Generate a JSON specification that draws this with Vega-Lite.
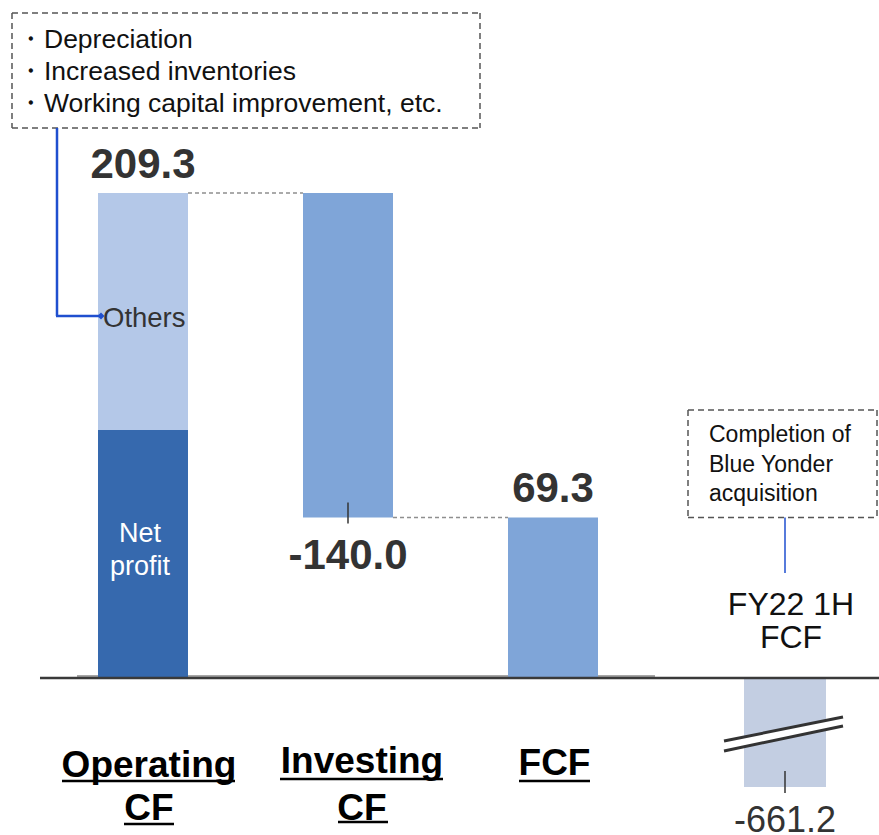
{
  "$schema": "https://vega.github.io/schema/vega-lite/v6.json",
  "width": 879,
  "height": 835,
  "padding": 0,
  "autosize": {"type": "none"},
  "background": "white",
  "config": {
    "view": {"stroke": null},
    "text": {"font": "Liberation Sans"},
    "locale": {"number": {"decimal": ".", "thousands": ",", "grouping": [3], "currency": ["$", ""], "minus": "-"}}
  },
  "datasets": {
    "bars": [
      {"cat": "Operating CF", "part": "Net profit", "y0": 0, "y1": 107.0},
      {"cat": "Operating CF", "part": "Others", "y0": 107.0, "y1": 209.3},
      {"cat": "Investing CF", "part": "Investing", "y0": 209.3, "y1": 69.3},
      {"cat": "FCF", "part": "FCF", "y0": 0, "y1": 69.3}
    ],
    "totals": [
      {"cat": "Operating CF", "total": 209.3},
      {"cat": "FCF", "total": 69.3}
    ],
    "steps": [
      {"from": "Operating CF", "to": "Investing CF", "level": 209.3},
      {"from": "Investing CF", "to": "FCF", "level": 69.3}
    ],
    "invest": [{"cat": "Investing CF", "amount": -140.0, "end": 69.3}],
    "fy22": [{"cat": "FY22 1H FCF", "value": -661.2, "label": "FY22 1H\nFCF"}],
    "cats": [
      {"cat": "Operating CF", "label": "Operating\nCF"},
      {"cat": "Investing CF", "label": "Investing\nCF"},
      {"cat": "FCF", "label": "FCF"}
    ]
  },
  "resolve": {"scale": {"y": "independent"}},
  "layer": [
    {
      "description": "FY22 1H FCF bar on a compressed (broken) value scale",
      "layer": [
        {
          "data": {"name": "fy22"},
          "mark": {"type": "bar", "color": "#C3CEE2", "width": 82, "xOffset": 27},
          "encoding": {
            "x": {"field": "cat", "type": "nominal", "axis": null, "scale": {"type": "band", "domain": ["Operating CF", "Investing CF", "FCF", "FY22 1H FCF"], "range": [98, 803], "paddingInner": 0.561, "paddingOuter": 0}},
            "y": {"field": "value", "type": "quantitative", "axis": null, "scale": {"domain": [-952.4, 4112.8], "nice": false, "zero": false}},
            "y2": {"datum": 0}
          }
        },
        {
          "data": {"values": [{}]},
          "mark": {"type": "rule", "color": "white", "strokeWidth": 9, "xOffset": -34, "x2Offset": 85},
          "encoding": {
            "x": {"datum": "FY22 1H FCF", "type": "nominal", "axis": null, "scale": {"type": "band", "domain": ["Operating CF", "Investing CF", "FCF", "FY22 1H FCF"], "range": [98, 803], "paddingInner": 0.561, "paddingOuter": 0}},
            "x2": {"datum": "FY22 1H FCF"},
            "y": {"datum": -412.5, "type": "quantitative", "axis": null, "scale": {"domain": [-952.4, 4112.8], "nice": false, "zero": false}},
            "y2": {"datum": -263.9}
          }
        },
        {
          "data": {"values": [{}]},
          "mark": {"type": "rule", "color": "#333333", "strokeWidth": 3, "xOffset": -34, "x2Offset": 85},
          "encoding": {
            "x": {"datum": "FY22 1H FCF", "type": "nominal", "axis": null, "scale": {"type": "band", "domain": ["Operating CF", "Investing CF", "FCF", "FY22 1H FCF"], "range": [98, 803], "paddingInner": 0.561, "paddingOuter": 0}},
            "x2": {"datum": "FY22 1H FCF"},
            "y": {"datum": -382.2, "type": "quantitative", "axis": null, "scale": {"domain": [-952.4, 4112.8], "nice": false, "zero": false}},
            "y2": {"datum": -236.6}
          }
        },
        {
          "data": {"values": [{}]},
          "mark": {"type": "rule", "color": "#333333", "strokeWidth": 3, "xOffset": -34, "x2Offset": 85},
          "encoding": {
            "x": {"datum": "FY22 1H FCF", "type": "nominal", "axis": null, "scale": {"type": "band", "domain": ["Operating CF", "Investing CF", "FCF", "FY22 1H FCF"], "range": [98, 803], "paddingInner": 0.561, "paddingOuter": 0}},
            "x2": {"datum": "FY22 1H FCF"},
            "y": {"datum": -442.8, "type": "quantitative", "axis": null, "scale": {"domain": [-952.4, 4112.8], "nice": false, "zero": false}},
            "y2": {"datum": -291.2}
          }
        },
        {
          "data": {"name": "fy22"},
          "mark": {"type": "rule", "color": "#333333", "strokeWidth": 1.5, "xOffset": 27, "yOffset": -16, "y2Offset": 6},
          "encoding": {
            "x": {"field": "cat", "type": "nominal", "axis": null, "scale": {"type": "band", "domain": ["Operating CF", "Investing CF", "FCF", "FY22 1H FCF"], "range": [98, 803], "paddingInner": 0.561, "paddingOuter": 0}},
            "y": {"field": "value", "type": "quantitative", "axis": null, "scale": {"domain": [-952.4, 4112.8], "nice": false, "zero": false}},
            "y2": {"field": "value"}
          }
        },
        {
          "data": {"name": "fy22"},
          "mark": {"type": "text", "fontSize": 36, "color": "#333333", "align": "center", "baseline": "alphabetic", "dx": 27, "dy": 45},
          "encoding": {
            "x": {"field": "cat", "type": "nominal", "axis": null, "scale": {"type": "band", "domain": ["Operating CF", "Investing CF", "FCF", "FY22 1H FCF"], "range": [98, 803], "paddingInner": 0.561, "paddingOuter": 0}},
            "y": {"field": "value", "type": "quantitative", "axis": null, "scale": {"domain": [-952.4, 4112.8], "nice": false, "zero": false}},
            "text": {"field": "value", "type": "quantitative", "format": ".1f"}
          }
        }
      ]
    },
    {
      "description": "Operating, investing and free cash flow waterfall",
      "layer": [
        {
          "data": {"values": [{}]},
          "mark": {"type": "rule", "color": "#8a8a8a", "strokeWidth": 1.5, "xOffset": -66, "x2Offset": 102, "yOffset": -2},
          "encoding": {
            "x": {"datum": "Operating CF", "type": "nominal", "axis": null, "scale": {"type": "band", "domain": ["Operating CF", "Investing CF", "FCF", "FY22 1H FCF"], "range": [98, 803], "paddingInner": 0.561, "paddingOuter": 0}},
            "x2": {"datum": "FCF"},
            "y": {"datum": 0, "type": "quantitative", "axis": null, "scale": {"domain": [-67.75, 292.6], "nice": false, "zero": false}}
          }
        },
        {
          "data": {"name": "steps"},
          "mark": {"type": "rule", "color": "#8f8f8f", "strokeWidth": 1.5, "strokeDash": [4, 3], "xOffset": 45, "x2Offset": -45},
          "encoding": {
            "x": {"field": "from", "type": "nominal", "axis": null, "scale": {"type": "band", "domain": ["Operating CF", "Investing CF", "FCF", "FY22 1H FCF"], "range": [98, 803], "paddingInner": 0.561, "paddingOuter": 0}},
            "x2": {"field": "to"},
            "y": {"field": "level", "type": "quantitative", "axis": null, "scale": {"domain": [-67.75, 292.6], "nice": false, "zero": false}}
          }
        },
        {
          "data": {"name": "bars"},
          "mark": {"type": "bar"},
          "encoding": {
            "x": {"field": "cat", "type": "nominal", "axis": null, "scale": {"type": "band", "domain": ["Operating CF", "Investing CF", "FCF", "FY22 1H FCF"], "range": [98, 803], "paddingInner": 0.561, "paddingOuter": 0}},
            "y": {"field": "y1", "type": "quantitative", "axis": null, "scale": {"domain": [-67.75, 292.6], "nice": false, "zero": false}},
            "y2": {"field": "y0"},
            "color": {"field": "part", "type": "nominal", "legend": null, "scale": {"domain": ["Net profit", "Others", "Investing", "FCF"], "range": ["#3669AE", "#B4C8E8", "#7FA5D8", "#7FA5D8"]}}
          }
        },
        {
          "data": {"values": [{}]},
          "mark": {"type": "rule", "color": "#3a3a3a", "strokeWidth": 2.5, "xOffset": -103, "x2Offset": 121},
          "encoding": {
            "x": {"datum": "Operating CF", "type": "nominal", "axis": null, "scale": {"type": "band", "domain": ["Operating CF", "Investing CF", "FCF", "FY22 1H FCF"], "range": [98, 803], "paddingInner": 0.561, "paddingOuter": 0}},
            "x2": {"datum": "FY22 1H FCF"},
            "y": {"datum": 0, "type": "quantitative", "axis": null, "scale": {"domain": [-67.75, 292.6], "nice": false, "zero": false}}
          }
        },
        {
          "data": {"name": "totals"},
          "mark": {"type": "text", "fontSize": 42, "fontWeight": "bold", "color": "#333333", "align": "center", "baseline": "alphabetic", "dy": -15},
          "encoding": {
            "x": {"field": "cat", "type": "nominal", "axis": null, "scale": {"type": "band", "domain": ["Operating CF", "Investing CF", "FCF", "FY22 1H FCF"], "range": [98, 803], "paddingInner": 0.561, "paddingOuter": 0}},
            "y": {"field": "total", "type": "quantitative", "axis": null, "scale": {"domain": [-67.75, 292.6], "nice": false, "zero": false}},
            "text": {"field": "total", "type": "quantitative", "format": ".1f"}
          }
        },
        {
          "data": {"name": "invest"},
          "mark": {"type": "text", "fontSize": 42, "fontWeight": "bold", "color": "#333333", "align": "center", "baseline": "alphabetic", "dy": 52},
          "encoding": {
            "x": {"field": "cat", "type": "nominal", "axis": null, "scale": {"type": "band", "domain": ["Operating CF", "Investing CF", "FCF", "FY22 1H FCF"], "range": [98, 803], "paddingInner": 0.561, "paddingOuter": 0}},
            "y": {"field": "end", "type": "quantitative", "axis": null, "scale": {"domain": [-67.75, 292.6], "nice": false, "zero": false}},
            "text": {"field": "amount", "type": "quantitative", "format": ".1f"}
          }
        },
        {
          "data": {"name": "invest"},
          "mark": {"type": "rule", "color": "#333333", "strokeWidth": 1.5, "yOffset": -15, "y2Offset": 6},
          "encoding": {
            "x": {"field": "cat", "type": "nominal", "axis": null, "scale": {"type": "band", "domain": ["Operating CF", "Investing CF", "FCF", "FY22 1H FCF"], "range": [98, 803], "paddingInner": 0.561, "paddingOuter": 0}},
            "y": {"field": "end", "type": "quantitative", "axis": null, "scale": {"domain": [-67.75, 292.6], "nice": false, "zero": false}},
            "y2": {"field": "end"}
          }
        },
        {
          "data": {"name": "bars"},
          "transform": [
            {"filter": "datum.part === 'Net profit'"},
            {"calculate": "(datum.y0 + datum.y1) / 2", "as": "mid"}
          ],
          "mark": {"type": "text", "fontSize": 27, "color": "white", "align": "center", "baseline": "alphabetic", "lineBreak": " ", "lineHeight": 33, "dx": -3, "dy": -12},
          "encoding": {
            "x": {"field": "cat", "type": "nominal", "axis": null, "scale": {"type": "band", "domain": ["Operating CF", "Investing CF", "FCF", "FY22 1H FCF"], "range": [98, 803], "paddingInner": 0.561, "paddingOuter": 0}},
            "y": {"field": "mid", "type": "quantitative", "axis": null, "scale": {"domain": [-67.75, 292.6], "nice": false, "zero": false}},
            "text": {"field": "part"}
          }
        },
        {
          "data": {"name": "bars"},
          "transform": [
            {"filter": "datum.part === 'Others'"},
            {"calculate": "(datum.y0 + datum.y1) / 2", "as": "mid"}
          ],
          "mark": {"type": "text", "fontSize": 27.5, "color": "#333333", "align": "left", "baseline": "alphabetic", "dx": -40, "dy": 15.5},
          "encoding": {
            "x": {"field": "cat", "type": "nominal", "axis": null, "scale": {"type": "band", "domain": ["Operating CF", "Investing CF", "FCF", "FY22 1H FCF"], "range": [98, 803], "paddingInner": 0.561, "paddingOuter": 0}},
            "y": {"field": "mid", "type": "quantitative", "axis": null, "scale": {"domain": [-67.75, 292.6], "nice": false, "zero": false}},
            "text": {"field": "part"}
          }
        },
        {
          "data": {"values": [{}]},
          "mark": {"type": "rule", "color": "#555555", "strokeWidth": 1.5, "strokeDash": [6, 4], "xOffset": -131, "x2Offset": 132},
          "encoding": {
            "x": {"datum": "Operating CF", "type": "nominal", "axis": null, "scale": {"type": "band", "domain": ["Operating CF", "Investing CF", "FCF", "FY22 1H FCF"], "range": [98, 803], "paddingInner": 0.561, "paddingOuter": 0}},
            "x2": {"datum": "Investing CF"},
            "y": {"datum": 287.0, "type": "quantitative", "axis": null, "scale": {"domain": [-67.75, 292.6], "nice": false, "zero": false}}
          }
        },
        {
          "data": {"values": [{}]},
          "mark": {"type": "rule", "color": "#555555", "strokeWidth": 1.5, "strokeDash": [6, 4], "xOffset": -131, "x2Offset": 132},
          "encoding": {
            "x": {"datum": "Operating CF", "type": "nominal", "axis": null, "scale": {"type": "band", "domain": ["Operating CF", "Investing CF", "FCF", "FY22 1H FCF"], "range": [98, 803], "paddingInner": 0.561, "paddingOuter": 0}},
            "x2": {"datum": "Investing CF"},
            "y": {"datum": 237.4, "type": "quantitative", "axis": null, "scale": {"domain": [-67.75, 292.6], "nice": false, "zero": false}}
          }
        },
        {
          "data": {"values": [{}]},
          "mark": {"type": "rule", "color": "#555555", "strokeWidth": 1.5, "strokeDash": [6, 4], "xOffset": -131},
          "encoding": {
            "x": {"datum": "Operating CF", "type": "nominal", "axis": null, "scale": {"type": "band", "domain": ["Operating CF", "Investing CF", "FCF", "FY22 1H FCF"], "range": [98, 803], "paddingInner": 0.561, "paddingOuter": 0}},
            "y": {"datum": 287.0, "type": "quantitative", "axis": null, "scale": {"domain": [-67.75, 292.6], "nice": false, "zero": false}},
            "y2": {"datum": 237.4}
          }
        },
        {
          "data": {"values": [{}]},
          "mark": {"type": "rule", "color": "#555555", "strokeWidth": 1.5, "strokeDash": [6, 4], "xOffset": 132},
          "encoding": {
            "x": {"datum": "Investing CF", "type": "nominal", "axis": null, "scale": {"type": "band", "domain": ["Operating CF", "Investing CF", "FCF", "FY22 1H FCF"], "range": [98, 803], "paddingInner": 0.561, "paddingOuter": 0}},
            "y": {"datum": 287.0, "type": "quantitative", "axis": null, "scale": {"domain": [-67.75, 292.6], "nice": false, "zero": false}},
            "y2": {"datum": 237.4}
          }
        },
        {
          "data": {"values": [{"note": "・Depreciation\n・Increased inventories\n・Working capital improvement, etc."}]},
          "mark": {"type": "text", "fontSize": 26.5, "color": "#111111", "align": "left", "baseline": "alphabetic", "lineBreak": "\n", "lineHeight": 32, "dx": -126, "dy": 35},
          "encoding": {
            "x": {"datum": "Operating CF", "type": "nominal", "axis": null, "scale": {"type": "band", "domain": ["Operating CF", "Investing CF", "FCF", "FY22 1H FCF"], "range": [98, 803], "paddingInner": 0.561, "paddingOuter": 0}},
            "y": {"datum": 287.0, "type": "quantitative", "axis": null, "scale": {"domain": [-67.75, 292.6], "nice": false, "zero": false}},
            "text": {"field": "note"}
          }
        },
        {
          "data": {"values": [{}]},
          "mark": {"type": "rule", "color": "#1F4FCF", "strokeWidth": 2.5, "xOffset": -86},
          "encoding": {
            "x": {"datum": "Operating CF", "type": "nominal", "axis": null, "scale": {"type": "band", "domain": ["Operating CF", "Investing CF", "FCF", "FY22 1H FCF"], "range": [98, 803], "paddingInner": 0.561, "paddingOuter": 0}},
            "y": {"datum": 237.4, "type": "quantitative", "axis": null, "scale": {"domain": [-67.75, 292.6], "nice": false, "zero": false}},
            "y2": {"datum": 156.2}
          }
        },
        {
          "data": {"values": [{}]},
          "mark": {"type": "rule", "color": "#1F4FCF", "strokeWidth": 2.5, "xOffset": -87, "x2Offset": -43},
          "encoding": {
            "x": {"datum": "Operating CF", "type": "nominal", "axis": null, "scale": {"type": "band", "domain": ["Operating CF", "Investing CF", "FCF", "FY22 1H FCF"], "range": [98, 803], "paddingInner": 0.561, "paddingOuter": 0}},
            "x2": {"datum": "Operating CF"},
            "y": {"datum": 156.2, "type": "quantitative", "axis": null, "scale": {"domain": [-67.75, 292.6], "nice": false, "zero": false}}
          }
        },
        {
          "data": {"values": [{}]},
          "mark": {"type": "point", "shape": "diamond", "filled": true, "size": 50, "opacity": 1, "color": "#1F4FCF", "xOffset": -42},
          "encoding": {
            "x": {"datum": "Operating CF", "type": "nominal", "axis": null, "scale": {"type": "band", "domain": ["Operating CF", "Investing CF", "FCF", "FY22 1H FCF"], "range": [98, 803], "paddingInner": 0.561, "paddingOuter": 0}},
            "y": {"datum": 156.2, "type": "quantitative", "axis": null, "scale": {"domain": [-67.75, 292.6], "nice": false, "zero": false}}
          }
        },
        {
          "data": {"values": [{}]},
          "mark": {"type": "rule", "color": "#555555", "strokeWidth": 1.5, "strokeDash": [6, 4], "xOffset": -70, "x2Offset": 119},
          "encoding": {
            "x": {"datum": "FY22 1H FCF", "type": "nominal", "axis": null, "scale": {"type": "band", "domain": ["Operating CF", "Investing CF", "FCF", "FY22 1H FCF"], "range": [98, 803], "paddingInner": 0.561, "paddingOuter": 0}},
            "x2": {"datum": "FY22 1H FCF"},
            "y": {"datum": 115.66, "type": "quantitative", "axis": null, "scale": {"domain": [-67.75, 292.6], "nice": false, "zero": false}}
          }
        },
        {
          "data": {"values": [{}]},
          "mark": {"type": "rule", "color": "#555555", "strokeWidth": 1.5, "strokeDash": [6, 4], "xOffset": -70, "x2Offset": 119},
          "encoding": {
            "x": {"datum": "FY22 1H FCF", "type": "nominal", "axis": null, "scale": {"type": "band", "domain": ["Operating CF", "Investing CF", "FCF", "FY22 1H FCF"], "range": [98, 803], "paddingInner": 0.561, "paddingOuter": 0}},
            "x2": {"datum": "FY22 1H FCF"},
            "y": {"datum": 69.3, "type": "quantitative", "axis": null, "scale": {"domain": [-67.75, 292.6], "nice": false, "zero": false}}
          }
        },
        {
          "data": {"values": [{}]},
          "mark": {"type": "rule", "color": "#555555", "strokeWidth": 1.5, "strokeDash": [6, 4], "xOffset": -70},
          "encoding": {
            "x": {"datum": "FY22 1H FCF", "type": "nominal", "axis": null, "scale": {"type": "band", "domain": ["Operating CF", "Investing CF", "FCF", "FY22 1H FCF"], "range": [98, 803], "paddingInner": 0.561, "paddingOuter": 0}},
            "y": {"datum": 115.66, "type": "quantitative", "axis": null, "scale": {"domain": [-67.75, 292.6], "nice": false, "zero": false}},
            "y2": {"datum": 69.3}
          }
        },
        {
          "data": {"values": [{}]},
          "mark": {"type": "rule", "color": "#555555", "strokeWidth": 1.5, "strokeDash": [6, 4], "xOffset": 119},
          "encoding": {
            "x": {"datum": "FY22 1H FCF", "type": "nominal", "axis": null, "scale": {"type": "band", "domain": ["Operating CF", "Investing CF", "FCF", "FY22 1H FCF"], "range": [98, 803], "paddingInner": 0.561, "paddingOuter": 0}},
            "y": {"datum": 115.66, "type": "quantitative", "axis": null, "scale": {"domain": [-67.75, 292.6], "nice": false, "zero": false}},
            "y2": {"datum": 69.3}
          }
        },
        {
          "data": {"values": [{"note": "Completion of\nBlue Yonder\nacquisition"}]},
          "mark": {"type": "text", "fontSize": 23, "color": "#111111", "align": "left", "baseline": "alphabetic", "lineBreak": "\n", "lineHeight": 29.5, "dx": -49, "dy": 32},
          "encoding": {
            "x": {"datum": "FY22 1H FCF", "type": "nominal", "axis": null, "scale": {"type": "band", "domain": ["Operating CF", "Investing CF", "FCF", "FY22 1H FCF"], "range": [98, 803], "paddingInner": 0.561, "paddingOuter": 0}},
            "y": {"datum": 115.66, "type": "quantitative", "axis": null, "scale": {"domain": [-67.75, 292.6], "nice": false, "zero": false}},
            "text": {"field": "note"}
          }
        },
        {
          "data": {"values": [{}]},
          "mark": {"type": "rule", "color": "#1F4FCF", "strokeWidth": 1.5, "xOffset": 27},
          "encoding": {
            "x": {"datum": "FY22 1H FCF", "type": "nominal", "axis": null, "scale": {"type": "band", "domain": ["Operating CF", "Investing CF", "FCF", "FY22 1H FCF"], "range": [98, 803], "paddingInner": 0.561, "paddingOuter": 0}},
            "y": {"datum": 69.3, "type": "quantitative", "axis": null, "scale": {"domain": [-67.75, 292.6], "nice": false, "zero": false}},
            "y2": {"datum": 45.3}
          }
        },
        {
          "data": {"name": "fy22"},
          "mark": {"type": "text", "fontSize": 32, "color": "#111111", "align": "center", "baseline": "alphabetic", "lineBreak": "\n", "lineHeight": 33, "dx": 33, "dy": -63},
          "encoding": {
            "x": {"field": "cat", "type": "nominal", "axis": null, "scale": {"type": "band", "domain": ["Operating CF", "Investing CF", "FCF", "FY22 1H FCF"], "range": [98, 803], "paddingInner": 0.561, "paddingOuter": 0}},
            "y": {"datum": 0, "type": "quantitative", "axis": null, "scale": {"domain": [-67.75, 292.6], "nice": false, "zero": false}},
            "text": {"field": "label"}
          }
        },
        {
          "data": {"name": "cats"},
          "transform": [{"filter": "datum.cat === 'Operating CF'"}],
          "mark": {"type": "text", "fontSize": 37, "fontWeight": "bold", "color": "#000000", "align": "center", "baseline": "alphabetic", "lineBreak": "\n", "lineHeight": 43, "dx": 6, "dy": 99},
          "encoding": {
            "x": {"field": "cat", "type": "nominal", "axis": null, "scale": {"type": "band", "domain": ["Operating CF", "Investing CF", "FCF", "FY22 1H FCF"], "range": [98, 803], "paddingInner": 0.561, "paddingOuter": 0}},
            "y": {"datum": 0, "type": "quantitative", "axis": null, "scale": {"domain": [-67.75, 292.6], "nice": false, "zero": false}},
            "text": {"field": "label"}
          }
        },
        {
          "data": {"name": "cats"},
          "transform": [{"filter": "datum.cat === 'Investing CF'"}],
          "mark": {"type": "text", "fontSize": 37, "fontWeight": "bold", "color": "#000000", "align": "center", "baseline": "alphabetic", "lineBreak": "\n", "lineHeight": 47, "dx": 14, "dy": 95},
          "encoding": {
            "x": {"field": "cat", "type": "nominal", "axis": null, "scale": {"type": "band", "domain": ["Operating CF", "Investing CF", "FCF", "FY22 1H FCF"], "range": [98, 803], "paddingInner": 0.561, "paddingOuter": 0}},
            "y": {"datum": 0, "type": "quantitative", "axis": null, "scale": {"domain": [-67.75, 292.6], "nice": false, "zero": false}},
            "text": {"field": "label"}
          }
        },
        {
          "data": {"name": "cats"},
          "transform": [{"filter": "datum.cat === 'FCF'"}],
          "mark": {"type": "text", "fontSize": 37, "fontWeight": "bold", "color": "#000000", "align": "center", "baseline": "alphabetic", "dx": 1.5, "dy": 97},
          "encoding": {
            "x": {"field": "cat", "type": "nominal", "axis": null, "scale": {"type": "band", "domain": ["Operating CF", "Investing CF", "FCF", "FY22 1H FCF"], "range": [98, 803], "paddingInner": 0.561, "paddingOuter": 0}},
            "y": {"datum": 0, "type": "quantitative", "axis": null, "scale": {"domain": [-67.75, 292.6], "nice": false, "zero": false}},
            "text": {"field": "label"}
          }
        },
        {
          "data": {"values": [{}]},
          "mark": {"type": "rule", "color": "#000000", "strokeWidth": 2.5, "xOffset": -81, "x2Offset": 92, "yOffset": 103},
          "encoding": {
            "x": {"datum": "Operating CF", "type": "nominal", "axis": null, "scale": {"type": "band", "domain": ["Operating CF", "Investing CF", "FCF", "FY22 1H FCF"], "range": [98, 803], "paddingInner": 0.561, "paddingOuter": 0}},
            "x2": {"datum": "Operating CF"},
            "y": {"datum": 0, "type": "quantitative", "axis": null, "scale": {"domain": [-67.75, 292.6], "nice": false, "zero": false}}
          }
        },
        {
          "data": {"values": [{}]},
          "mark": {"type": "rule", "color": "#000000", "strokeWidth": 2.5, "xOffset": -19, "x2Offset": 31, "yOffset": 146},
          "encoding": {
            "x": {"datum": "Operating CF", "type": "nominal", "axis": null, "scale": {"type": "band", "domain": ["Operating CF", "Investing CF", "FCF", "FY22 1H FCF"], "range": [98, 803], "paddingInner": 0.561, "paddingOuter": 0}},
            "x2": {"datum": "Operating CF"},
            "y": {"datum": 0, "type": "quantitative", "axis": null, "scale": {"domain": [-67.75, 292.6], "nice": false, "zero": false}}
          }
        },
        {
          "data": {"values": [{}]},
          "mark": {"type": "rule", "color": "#000000", "strokeWidth": 2.5, "xOffset": -68, "x2Offset": 95, "yOffset": 101},
          "encoding": {
            "x": {"datum": "Investing CF", "type": "nominal", "axis": null, "scale": {"type": "band", "domain": ["Operating CF", "Investing CF", "FCF", "FY22 1H FCF"], "range": [98, 803], "paddingInner": 0.561, "paddingOuter": 0}},
            "x2": {"datum": "Investing CF"},
            "y": {"datum": 0, "type": "quantitative", "axis": null, "scale": {"domain": [-67.75, 292.6], "nice": false, "zero": false}}
          }
        },
        {
          "data": {"values": [{}]},
          "mark": {"type": "rule", "color": "#000000", "strokeWidth": 2.5, "xOffset": -10, "x2Offset": 40, "yOffset": 144},
          "encoding": {
            "x": {"datum": "Investing CF", "type": "nominal", "axis": null, "scale": {"type": "band", "domain": ["Operating CF", "Investing CF", "FCF", "FY22 1H FCF"], "range": [98, 803], "paddingInner": 0.561, "paddingOuter": 0}},
            "x2": {"datum": "Investing CF"},
            "y": {"datum": 0, "type": "quantitative", "axis": null, "scale": {"domain": [-67.75, 292.6], "nice": false, "zero": false}}
          }
        },
        {
          "data": {"values": [{}]},
          "mark": {"type": "rule", "color": "#000000", "strokeWidth": 2.5, "xOffset": -34, "x2Offset": 37, "yOffset": 103},
          "encoding": {
            "x": {"datum": "FCF", "type": "nominal", "axis": null, "scale": {"type": "band", "domain": ["Operating CF", "Investing CF", "FCF", "FY22 1H FCF"], "range": [98, 803], "paddingInner": 0.561, "paddingOuter": 0}},
            "x2": {"datum": "FCF"},
            "y": {"datum": 0, "type": "quantitative", "axis": null, "scale": {"domain": [-67.75, 292.6], "nice": false, "zero": false}}
          }
        }
      ]
    }
  ]
}
